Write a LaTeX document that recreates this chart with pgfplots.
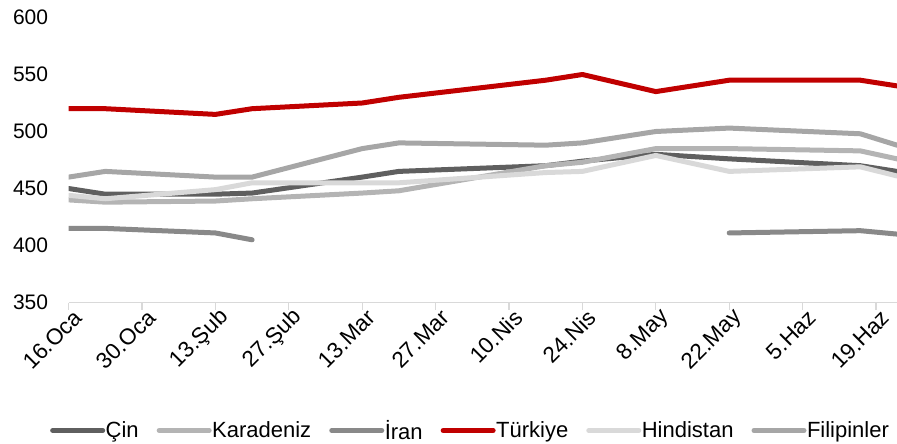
\documentclass[border=0pt]{standalone}
\usepackage{fontspec}
\setmainfont{Liberation Sans}
\usepackage{pgfplots}
\pgfplotsset{compat=1.18}
\definecolor{cin}{RGB}{95,95,95}
\definecolor{kar}{RGB}{180,180,180}
\definecolor{iran}{RGB}{137,137,137}
\definecolor{tur}{RGB}{192,0,0}
\definecolor{hin}{RGB}{217,217,217}
\definecolor{fil}{RGB}{166,166,166}
\definecolor{axg}{RGB}{217,217,217}
\begin{document}
\begin{tikzpicture}
\begin{axis}[
  scale only axis, width=828.4pt, height=285pt,
  xmin=0, xmax=158, ymin=350, ymax=600,
  axis x line*=bottom, axis y line*=left,
  y axis line style={draw=none}, ytick style={draw=none},
  xtick={0,14,...,154},
  xticklabels={16.Oca,30.Oca,13.Şub,27.Şub,13.Mar,27.Mar,10.Nis,24.Nis,8.May,22.May,5.Haz,19.Haz},
  ytick={350,400,...,600},
  tick align=outside, major tick length=7pt,
  x axis line style={axg, line width=1.3pt}, xtick style={axg, line width=1.3pt},
  yticklabel style={font=\fontsize{21}{25}\selectfont, xshift=-10pt},
  xticklabel style={font=\fontsize{22.5}{26}\selectfont, xshift=11pt, yshift=-3pt, rotate=45, anchor=east, inner sep=2pt},
  /pgf/number format/assume math mode=true,
  unbounded coords=jump,
  every axis plot/.append style={line width=5pt, line join=round, line cap=round},
  legend columns=6,
  legend style={at={(0.5,-0.449)}, anchor=center, draw=none, xshift=-13pt,
    font=\fontsize{22}{26}\selectfont,
    nodes={inner xsep=0.5pt},
    /tikz/every even column/.append style={column sep=17.5pt}},
  legend image code/.code={\draw[#1, line cap=round] (0pt,0pt) -- (50pt,0pt);},
]
\coordinate (O) at (rel axis cs:0,0);
\addplot[cin] coordinates {(0,450)(7,445)(28,445)(35,446)(56,460)(63,465)(91,470)(98,474)(112,480)(126,476)(151,470)(158,465)};
\addlegendentry{Çin}
\addplot[kar] coordinates {(0,440)(7,438)(28,439)(35,441)(56,446)(63,448)(91,470)(98,473)(112,485)(126,485)(151,483)(158,476)};
\addlegendentry{Karadeniz}
\addplot[iran] coordinates {(0,415)(7,415)(28,411)(35,405)(56,nan)(126,411)(151,413)(158,410)};
\addlegendentry{İran}
\addplot[tur] coordinates {(0,520)(7,520)(28,515)(35,520)(56,525)(63,530)(91,545)(98,550)(112,535)(126,545)(151,545)(158,540)};
\addlegendentry{Türkiye}
\addplot[hin] coordinates {(0,444)(7,441)(28,449)(35,455)(56,455)(63,455)(91,464)(98,465)(112,479)(126,465)(151,469)(158,461)};
\addlegendentry{Hindistan}
\addplot[fil] coordinates {(0,460)(7,465)(28,460)(35,460)(56,485)(63,490)(91,488)(98,490)(112,500)(126,503)(151,498)(158,488)};
\addlegendentry{Filipinler}
\end{axis}
\pgfresetboundingbox
\path ([shift={(-68.6pt,302.5pt)}]O) rectangle ([shift={(828.4pt,-141.5pt)}]O);
\end{tikzpicture}
\end{document}
